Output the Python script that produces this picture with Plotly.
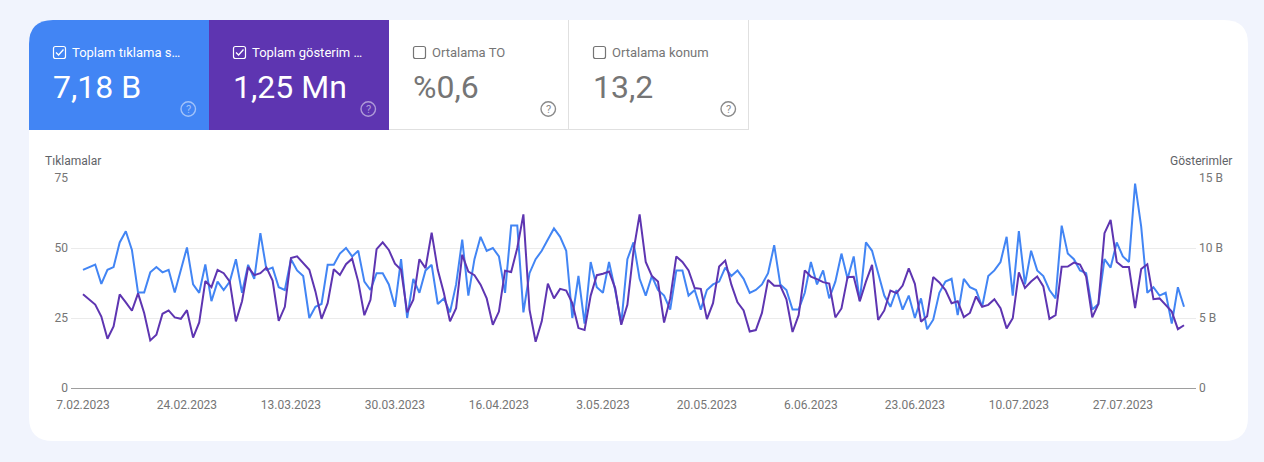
import pandas as pd
import plotly.graph_objects as go

start_date = "2023-02-07"

clicks = [42.2, 43.2, 44.1, 37.2, 42.2, 43.2, 52, 56, 49.3, 34.1, 34.1, 41.3, 43.2, 41.3, 42.2, 34.1, 42, 50.2, 37, 34,
          44.1, 31, 38, 35, 38, 46, 34, 44, 39, 55.3, 42.2, 43, 36, 35, 46, 42, 40, 25, 29, 30, 44,
          44, 48, 50, 47, 49, 38, 35, 41, 41, 37, 29, 46, 25, 39, 34, 42, 44, 30, 32, 27, 37, 53, 33, 46, 54, 49, 50, 47, 34,
          58, 58, 27, 41, 46, 49, 53, 57, 54, 49, 25, 40, 23, 45, 36, 34, 45, 35, 23, 46,
          52, 39, 33, 40, 35, 33, 28, 42, 42, 33, 35, 28, 35, 37, 38, 43, 40, 42, 39, 34, 35, 37, 41, 51, 37, 35, 28, 28, 34, 45,
          37, 42, 32, 38, 48, 39, 47, 31, 52, 49, 41, 33, 29, 35, 28, 33, 25, 32, 21,
          24.4, 34, 38, 39, 26, 39, 36, 35, 29, 40, 42, 45, 54, 33, 56, 37, 49, 42, 40, 35, 32, 58, 48, 46, 42, 41, 28, 30, 46, 43,
          52, 47, 45, 73, 57.6, 34, 36, 33, 34, 23, 36, 29]

impressions = [6.7, 6.3, 5.96, 5.1, 3.52, 4.4, 6.68, 6.12, 5.52, 6.76, 5.36, 3.4, 3.8, 5.3, 5.54, 5.04, 4.94, 5.56, 3.6, 4.68,
               7.64, 7.2, 8.44, 8.2, 7.6, 4.76, 6.2, 8.64, 8.06, 8.2, 8.6, 7.68, 4.8, 5.8, 9.28, 9.4, 8.92, 8.44, 6.9, 4.94, 6.06,
               8.48, 8.08, 8.84, 9.24, 7.6, 5.2, 6.3, 9.92, 10.4, 9.86, 8.88, 8.44, 5.4, 6.3, 9.2, 8.56, 11.1, 8.44, 6.78, 4.76,
               5.7, 9.52, 8.32, 8.06, 7.38, 6.4, 4.52, 5.46, 8.38, 8.28, 10, 12.4, 5.6, 3.3, 4.76, 7.46, 6.4, 7.08, 6.96, 6.06,
               4.28, 4.14, 6.6, 8.06, 8.16, 8.32, 7.14, 4.52, 5.94,
               9.8, 12.4, 9, 8, 7.6, 4.68, 6.4, 9.4, 9, 8.4, 7.14, 7.08, 4.92, 6.06, 8.68, 9.1, 7.38, 6.12, 5.54, 4.04, 4.14, 5.36,
               7.72, 7.3, 7.3, 6.34, 4, 5.2, 8.4, 7.96, 7.78, 7.56, 7.46, 5.04, 5.68, 7.92, 7.94, 6.2, 7.6, 8.8, 4.86, 5.54, 6.96,
               6.78, 7.32, 8.54, 7.44, 4.74, 5.12,
               7.92, 7.54, 7, 6.06, 6.2, 5.06, 5.36, 6.54, 5.8, 5.94, 6.34, 5.7, 4.26, 4.98, 8.26, 7.14, 7.6, 7.96, 7.26, 4.94, 5.2,
               8.66, 8.68, 8.96, 8.82, 7.96, 5.04, 6, 11.06, 12, 9, 8.64, 8.64, 5.7, 8.5, 8.84, 6.34, 6.4, 5.92, 5.46, 4.2, 4.48]

tick_dates = ["2023-02-07", "2023-02-24", "2023-03-13", "2023-03-30", "2023-04-16", "2023-05-03",
              "2023-05-20", "2023-06-06", "2023-06-23", "2023-07-10", "2023-07-27"]
tick_labels = ["7.02.2023", "24.02.2023", "13.03.2023", "30.03.2023", "16.04.2023", "3.05.2023",
               "20.05.2023", "6.06.2023", "23.06.2023", "10.07.2023", "27.07.2023"]
click_ticks = [0, 25, 50, 75]
impression_ticks = [0, 5, 10, 15]
impression_labels = ["0", "5 B", "10 B", "15 B"]

tile_titles = ["Toplam tıklama s…", "Toplam gösterim …", "Ortalama TO", "Ortalama konum"]
tile_values = ["7,18 B", "1,25 Mn", "%0,6", "13,2"]
tile_left = [29, 209, 389, 569]
tile_fill = ["#4285f4", "#5e35b1", "#ffffff", "#ffffff"]
tile_checked = [True, True, False, False]

BG = "#f1f4fd"
GREY = "#757575"
ROBOTO = "Roboto"

# plot area in page pixels, everything outside the axes is placed from these
L, R, T, B = 71, 1196, 178, 388


def px(x):
    return (x - L) / (R - L)


def py(y):
    return (B - y) / (B - T)


def rect_path(x0, y0, x1, y1, r=0, corners=""):
    # corners: which ones are rounded, any of tl tr br bl
    rtl = r if "tl" in corners else 0
    rtr = r if "tr" in corners else 0
    rbr = r if "br" in corners else 0
    rbl = r if "bl" in corners else 0
    p = f"M {px(x0 + rtl)} {py(y0)} L {px(x1 - rtr)} {py(y0)} "
    if rtr:
        p += f"Q {px(x1)} {py(y0)} {px(x1)} {py(y0 + rtr)} "
    p += f"L {px(x1)} {py(y1 - rbr)} "
    if rbr:
        p += f"Q {px(x1)} {py(y1)} {px(x1 - rbr)} {py(y1)} "
    p += f"L {px(x0 + rbl)} {py(y1)} "
    if rbl:
        p += f"Q {px(x0)} {py(y1)} {px(x0)} {py(y1 - rbl)} "
    p += f"L {px(x0)} {py(y0 + rtl)} "
    if rtl:
        p += f"Q {px(x0)} {py(y0)} {px(x0 + rtl)} {py(y0)} "
    return p + "Z"


def page_text(x, y, text, size, color, xanchor="left"):
    # annotations carry a 2px box padding, cancel it so x is the real text edge
    shift = {"left": -2, "right": 2, "center": 0}[xanchor]
    return dict(xref="paper", yref="paper", x=px(x), y=py(y), text=text, showarrow=False,
                xanchor=xanchor, yanchor="middle", xshift=shift,
                font=dict(family=ROBOTO, size=size, color=color))


dates = pd.date_range(start_date, periods=len(clicks))
x_min = dates[0] - pd.Timedelta(days=1.96)
x_max = dates[-1] + pd.Timedelta(days=1.96)

fig = go.Figure()
fig.add_trace(go.Scatter(x=dates, y=clicks, mode="lines", name="Tıklamalar",
                         line=dict(color="#4285f4", width=2)))
fig.add_trace(go.Scatter(x=dates, y=impressions, mode="lines", name="Gösterimler", yaxis="y2",
                         line=dict(color="#5e35b1", width=2)))

shapes = [dict(type="path", xref="paper", yref="paper", layer="below", line_width=0, fillcolor="#ffffff",
               path=rect_path(29, 20, 1248, 441, 24, "tl tr br bl"))]
annotations = []

for i, left in enumerate(tile_left):
    checked = tile_checked[i]
    ink = "#ffffff" if checked else GREY
    shapes.append(dict(type="path", xref="paper", yref="paper", layer="below", line_width=0,
                       fillcolor=tile_fill[i],
                       path=rect_path(left, 20, left + 180, 130, 24, "tl" if i == 0 else "")))
    if not checked:
        # thin borders of the unselected tiles
        shapes.append(dict(type="line", xref="paper", yref="paper", layer="below", x0=px(left), x1=px(left + 180),
                           y0=py(129.5), y1=py(129.5), line=dict(color="#e0e0e0", width=1)))
        shapes.append(dict(type="line", xref="paper", yref="paper", layer="below", x0=px(left + 179.5),
                           x1=px(left + 179.5), y0=py(20), y1=py(130), line=dict(color="#e0e0e0", width=1)))
    # checkbox
    shapes.append(dict(type="path", xref="paper", yref="paper", line=dict(color=ink, width=1.2),
                       path=rect_path(left + 24.5, 46.5, left + 36.5, 58.5, 2, "tl tr br bl")))
    if checked:
        shapes.append(dict(type="path", xref="paper", yref="paper", line=dict(color=ink, width=1.3),
                           path=f"M {px(left + 27)} {py(52.5)} L {px(left + 29.6)} {py(55)} L {px(left + 34.5)} {py(49.5)}"))
    annotations.append(page_text(left + 43, 52.5, tile_titles[i], 13, ink))
    annotations.append(page_text(left + 24, 87, tile_values[i], 32, ink))
    # help icon
    icon = "rgba(255,255,255,0.5)" if checked else "#8a8a8a"
    shapes.append(dict(type="circle", xref="paper", yref="paper", line=dict(color=icon, width=1.4),
                       x0=px(left + 152), x1=px(left + 166.5), y0=py(116.2), y1=py(101.8)))
    annotations.append(page_text(left + 159.2, 109, "?", 11, icon, "center"))

annotations.append(page_text(45, 161, "Tıklamalar", 12, "#5f6368"))
annotations.append(page_text(1232, 161, "Gösterimler", 12, "#5f6368", "right"))

fig.update_layout(
    width=1264, height=462,
    margin=dict(l=L, r=1264 - R, t=T, b=462 - B, autoexpand=False),
    paper_bgcolor=BG, plot_bgcolor="rgba(0,0,0,0)",
    showlegend=False, hovermode="x",
    font=dict(family=ROBOTO, size=12, color=GREY),
    shapes=shapes, annotations=annotations,
    xaxis=dict(type="date", range=[x_min, x_max], tickvals=tick_dates, ticktext=tick_labels,
               showgrid=False, zeroline=False, showline=True, linecolor="#9e9e9e", linewidth=1,
               ticks="", ticklabelstandoff=6, tickfont=dict(size=12, color=GREY)),
    yaxis=dict(range=[0, 75], tickvals=click_ticks, showgrid=True, gridcolor="#ebebeb", gridwidth=1,
               zeroline=False, showline=False, ticks="", ticklabelstandoff=2,
               tickfont=dict(size=12, color=GREY)),
    yaxis2=dict(range=[0, 15], tickvals=impression_ticks, ticktext=impression_labels, overlaying="y", side="right",
                showgrid=False, zeroline=False, showline=False, ticks="", ticklabelstandoff=2,
                tickfont=dict(size=12, color=GREY)),
)

fig.write_html("out.html", config=dict(displayModeBar=False), post_script="document.body.style.margin='0';")
